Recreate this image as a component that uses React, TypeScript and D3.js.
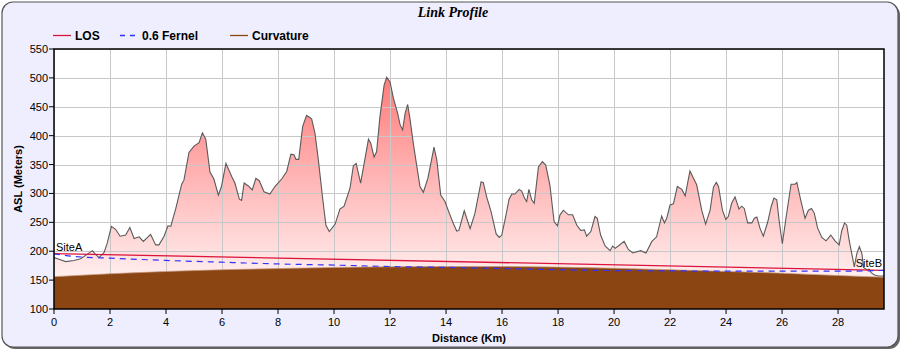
import React from 'react';
import * as d3 from 'd3';

// terrain profile
const distKm = [
  0, 0.18, 0.42, 0.71, 0.95, 1.19, 1.37, 1.49, 1.61, 1.79, 1.9, 2.05, 2.2, 2.36, 2.56, 2.71, 2.86, 3.04, 3.19, 3.45,
  3.63, 3.75, 3.93, 4.07, 4.17, 4.35, 4.56, 4.64, 4.82, 5.0, 5.18, 5.3, 5.42, 5.57, 5.71, 5.87, 5.98, 6.14, 6.35, 6.46,
  6.62, 6.7, 6.79, 6.94, 7.08, 7.21, 7.33, 7.5, 7.71, 7.89, 8.13, 8.31, 8.46, 8.57, 8.64, 8.74, 8.88, 9.02, 9.2, 9.32,
  9.44, 9.6, 9.71, 9.83, 10.04, 10.21, 10.36, 10.57, 10.69, 10.79, 10.95, 11.23, 11.31, 11.43, 11.52, 11.64, 11.79, 11.88, 12.0, 12.12,
  12.27, 12.36, 12.45, 12.54, 12.63, 12.71, 12.83, 12.95, 13.07, 13.19, 13.35, 13.47, 13.57, 13.67, 13.81, 13.96, 14.14, 14.26, 14.38, 14.46,
  14.65, 14.86, 15.03, 15.25, 15.33, 15.45, 15.61, 15.79, 15.9, 15.99, 16.13, 16.25, 16.35, 16.46, 16.61, 16.7, 16.8, 16.88, 16.96, 17.06,
  17.15, 17.3, 17.44, 17.56, 17.71, 17.86, 17.98, 18.07, 18.19, 18.37, 18.52, 18.67, 18.81, 18.94, 19.02, 19.17, 19.32, 19.4, 19.52, 19.68,
  19.86, 19.95, 20.04, 20.15, 20.36, 20.51, 20.67, 20.95, 21.14, 21.35, 21.52, 21.7, 21.8, 21.88, 22.0, 22.12, 22.26, 22.42, 22.54, 22.71,
  22.95, 23.13, 23.27, 23.43, 23.55, 23.65, 23.73, 23.87, 23.99, 24.08, 24.2, 24.32, 24.46, 24.56, 24.65, 24.77, 24.92, 25.01, 25.1, 25.21,
  25.33, 25.49, 25.61, 25.71, 25.81, 25.9, 26.01, 26.13, 26.32, 26.46, 26.53, 26.64, 26.82, 26.94, 27.05, 27.15, 27.27, 27.42, 27.57, 27.74,
  27.89, 28.04, 28.13, 28.23, 28.31, 28.4, 28.58, 28.67, 28.76, 28.85, 28.91, 29.02, 29.11, 29.18, 29.3, 29.44, 29.64,
];
const elevM = [
  189, 186, 182, 184, 187, 195, 201, 194, 189, 198, 214, 243, 238, 226, 228, 241, 222, 225, 217, 229,
  211, 211, 226, 244, 243, 274, 316, 323, 371, 382, 388, 405, 394, 337, 325, 297, 312, 352, 329, 318,
  290, 288, 318, 313, 306, 326, 322, 303, 299, 312, 325, 338, 368, 367, 359, 359, 416, 435, 429, 404,
  358, 289, 245, 234, 247, 273, 278, 309, 348, 352, 318, 394, 387, 363, 372, 433, 488, 501, 493, 465,
  439, 419, 410, 439, 454, 430, 387, 349, 312, 302, 326, 355, 380, 358, 297, 286, 263, 248, 235, 236,
  270, 239, 265, 320, 319, 294, 268, 230, 224, 228, 260, 290, 299, 299, 307, 304, 292, 286, 307, 289,
  283, 346, 355, 349, 314, 251, 244, 263, 271, 263, 263, 245, 236, 237, 226, 234, 260, 257, 228, 209,
  201, 209, 205, 209, 217, 203, 197, 201, 197, 217, 225, 261, 249, 257, 280, 282, 312, 307, 296, 339,
  315, 271, 247, 271, 311, 319, 312, 271, 255, 260, 283, 294, 273, 278, 274, 249, 249, 257, 259, 240,
  226, 251, 277, 292, 289, 251, 213, 254, 316, 316, 319, 294, 257, 271, 274, 266, 240, 224, 218, 228,
  218, 211, 235, 249, 245, 218, 173, 196, 208, 196, 172, 168, 169, 163, 159, 157, 157,
];

// earth curvature
const curveKm = [0, 2, 4, 6, 8, 10, 12, 14, 16, 18, 20, 22, 24, 26, 28, 29.64];
const curveM = [156, 161, 165, 168, 170, 172, 173, 173.5, 173.5, 172.5, 170.5, 168, 165, 162, 158, 155];

// 0.6 fresnel zone
const fresnelKm = [0, 0.5, 1, 2, 4, 6, 8, 10, 12, 14, 16, 18, 20, 22, 24, 26, 28, 29, 29.64];
const fresnelM = [195.5, 192, 190, 188, 184, 181, 178, 176, 173.5, 172, 170, 168, 166.5, 166, 165.5, 165.5, 165.5, 166, 167];

// line of sight
const losKm = [0, 29.64];
const losM = [196, 167];

const xTicks = [0, 2, 4, 6, 8, 10, 12, 14, 16, 18, 20, 22, 24, 26, 28];
const yTicks = [100, 150, 200, 250, 300, 350, 400, 450, 500, 550];

const legendItems = [
  { label: 'LOS', color: '#dc143c', dash: '', x: 53 },
  { label: '0.6 Fernel', color: '#3333ff', dash: '5,5', x: 120 },
  { label: 'Curvature', color: '#8b4513', dash: '', x: 230 },
];

const FONT = '"Liberation Sans", Arial, sans-serif';

export default function App() {
  const W = 907;
  const H = 353;
  const plot = { left: 54, right: 884, top: 49, bottom: 309 };

  const x = d3.scaleLinear().domain([0, 29.64]).range([plot.left, plot.right]);
  const y = d3.scaleLinear().domain([100, 550]).range([plot.bottom, plot.top]);

  const terrain = distKm.map((d, i) => [d, elevM[i]] as [number, number]);
  const curvature = curveKm.map((d, i) => [d, curveM[i]] as [number, number]);
  const fresnel = fresnelKm.map((d, i) => [d, fresnelM[i]] as [number, number]);
  const los = losKm.map((d, i) => [d, losM[i]] as [number, number]);

  const terrainArea = d3.area<[number, number]>()
    .x(d => x(d[0]))
    .y0(y(100))
    .y1(d => y(d[1]));
  const terrainLine = d3.line<[number, number]>()
    .x(d => x(d[0]))
    .y(d => y(d[1]));
  const curveArea = d3.area<[number, number]>()
    .x(d => x(d[0]))
    .y0(y(100))
    .y1(d => y(d[1]))
    .curve(d3.curveMonotoneX);
  const smoothLine = d3.line<[number, number]>()
    .x(d => x(d[0]))
    .y(d => y(d[1]))
    .curve(d3.curveMonotoneX);

  return (
    <svg width={W} height={H} style={{ position: 'absolute', left: 0, top: 0 }} fontFamily={FONT}>
      <defs>
        <linearGradient id="terrainFill" gradientUnits="userSpaceOnUse" x1={0} y1={y(500)} x2={0} y2={y(150)}>
          <stop offset="0%" stopColor="#ff7b7b" />
          <stop offset="100%" stopColor="#fff0f0" />
        </linearGradient>
        <clipPath id="plotClip">
          <rect x={plot.left} y={plot.top} width={plot.right - plot.left} height={plot.bottom - plot.top} />
        </clipPath>
      </defs>

      {/* outer frame */}
      <rect x={4} y={4} width={896} height={345} rx={11} fill="#666" />
      <rect x={2} y={2} width={896} height={345} rx={11} fill="#eeeefe" stroke="#555" strokeWidth={1.2} />

      <text x={453} y={17} textAnchor="middle" fontFamily='"Liberation Serif", "Times New Roman", serif'
        fontStyle="italic" fontWeight="bold" fontSize={14}>Link Profile</text>

      {/* legend */}
      {legendItems.map(it => (
        <g key={it.label}>
          <line x1={it.x} x2={it.x + 18} y1={35.5} y2={35.5} stroke={it.color} strokeWidth={1.3}
            strokeDasharray={it.dash || undefined} />
          <text x={it.x + 22} y={40} fontSize={12} fontWeight="bold">{it.label}</text>
        </g>
      ))}

      <rect x={plot.left} y={plot.top} width={plot.right - plot.left} height={plot.bottom - plot.top} fill="#fff" />

      <g clipPath="url(#plotClip)">
        <path d={terrainArea(terrain) ?? ''} fill="url(#terrainFill)" />
        {yTicks.map(t => (
          <line key={'gy' + t} x1={plot.left} x2={plot.right} y1={Math.round(y(t)) + 0.5} y2={Math.round(y(t)) + 0.5}
            stroke="#c8c8c8" strokeWidth={1} />
        ))}
        {xTicks.map(t => (
          <line key={'gx' + t} x1={Math.round(x(t)) + 0.5} x2={Math.round(x(t)) + 0.5} y1={plot.top} y2={plot.bottom}
            stroke="#c8c8c8" strokeWidth={1} />
        ))}
        <path d={curveArea(curvature) ?? ''} fill="#8b4513" />
        <path d={smoothLine(curvature) ?? ''} fill="none" stroke="#c89a80" strokeWidth={1} opacity={0.7} />
        <path d={terrainLine(terrain) ?? ''} fill="none" stroke="#5a5a5a" strokeWidth={1.1} />
        <path d={smoothLine(los) ?? ''} fill="none" stroke="#dc143c" strokeWidth={1.3} />
        <path d={smoothLine(fresnel) ?? ''} fill="none" stroke="#3333ff" strokeWidth={1.2} strokeDasharray="6,5" />
      </g>

      <text x={x(0) + 2} y={y(196) - 3} fontSize={11}>SiteA</text>
      <text x={x(29.64) - 2} y={y(167) - 3} fontSize={11} textAnchor="end">SiteB</text>

      {/* plot border */}
      <rect x={plot.left} y={plot.top} width={plot.right - plot.left} height={plot.bottom - plot.top}
        fill="none" stroke="#000" strokeWidth={1.5} />

      {/* y axis */}
      {yTicks.map(t => (
        <g key={'ty' + t}>
          <line x1={plot.left - 5} x2={plot.left} y1={y(t)} y2={y(t)} stroke="#000" />
          <text x={plot.left - 6} y={y(t) + 4} fontSize={11} textAnchor="end">{t}</text>
        </g>
      ))}
      {/* x axis */}
      {xTicks.map(t => (
        <g key={'tx' + t}>
          <line x1={x(t)} x2={x(t)} y1={plot.bottom} y2={plot.bottom + 5} stroke="#000" />
          <text x={x(t)} y={plot.bottom + 17} fontSize={11} textAnchor="middle">{t}</text>
        </g>
      ))}

      <text transform={`translate(22,${(plot.top + plot.bottom) / 2}) rotate(-90)`} textAnchor="middle"
        fontSize={11} fontWeight="bold">ASL (Meters)</text>
      <text x={(plot.left + plot.right) / 2} y={342} textAnchor="middle" fontSize={11} fontWeight="bold">Distance (Km)</text>
    </svg>
  );
}
